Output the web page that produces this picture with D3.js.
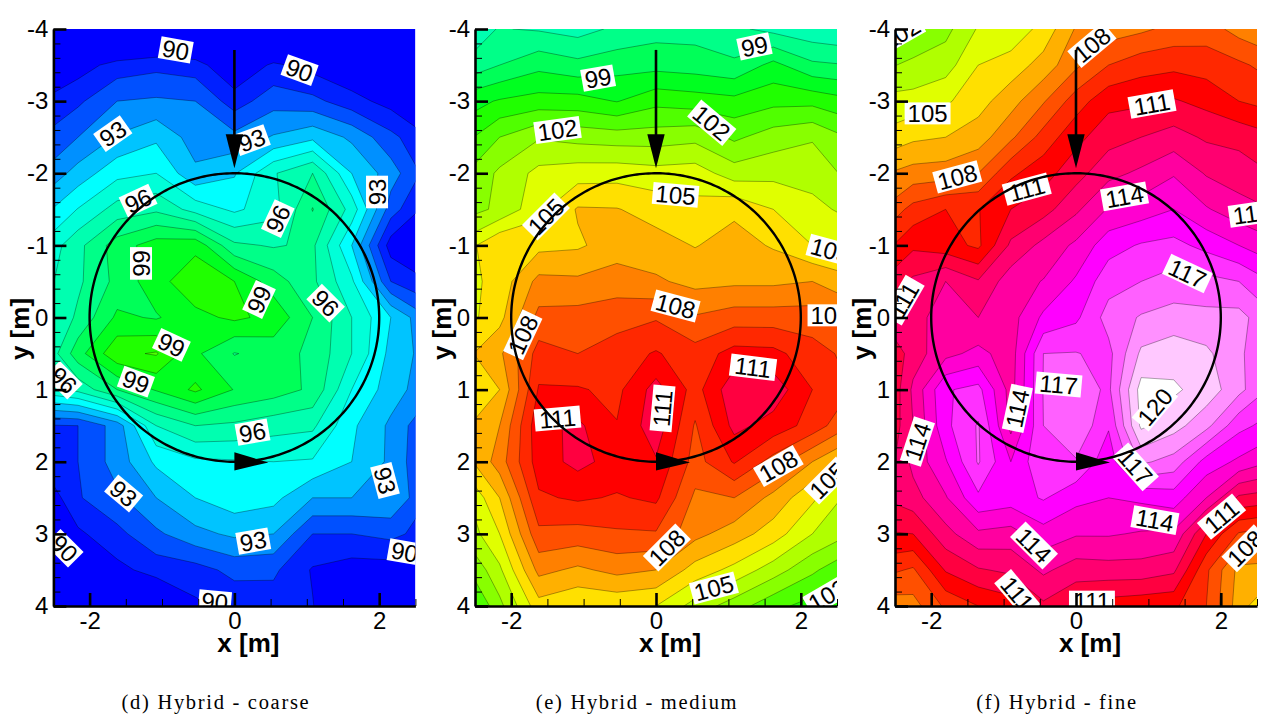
<!DOCTYPE html>
<html>
<head>
<meta charset="utf-8">
<script src="https://cdn.jsdelivr.net/npm/d3@7"></script>
<style>
  body { margin: 0; background: #fff; }
  svg { display: block; }
  text { font-family: "Liberation Sans", sans-serif; }
  .caption { font-family: "Liberation Serif", serif; font-size: 20.5px; letter-spacing: 1.7px; }
  .axisTitle { font-size: 26px; font-weight: bold; }
  .tick text { font-size: 24px; fill: #000; }
</style>
</head>
<body>
<svg id="chart" width="1287" height="719"></svg>
<script>
// measurement rows, y = -4 ... 4 in steps of 0.5
var rowsY = d3.range(-4, 4.01, 0.5);
// the two coarser meshes share 11 columns, the fine one has 13
var colsX11 = [-2.7, -2.16, -1.62, -1.08, -0.54, 0, 0.54, 1.08, 1.62, 2.16, 2.7];
var colsX13 = [-2.7, -2.25, -1.8, -1.35, -0.9, -0.45, 0, 0.45, 0.9, 1.35, 1.8, 2.25, 2.7];

var coarseField = [
  [85,86,87,87.5,87.5,87,87,87,86,85,84],
  [88.5,89.5,90.4,90.7,90.45,89,90.2,89.6,89,88,87],
  [90,90.8,92,92.15,92,90.5,91.6,91.3,90.4,89.6,88.5],
  [91,92,93.1,93.8,92.55,92.3,93.1,93.75,92.8,91.3,90],
  [92,93.4,94.7,95,93.2,93.9,95.9,97,94,92.5,90.5],
  [93.5,95.05,96.4,96.8,95.6,94.8,95.6,98.05,95.6,91.5,89.5],
  [95,96.7,98.5,99.5,99.7,97.2,96.9,97.2,94,89.5,88],
  [95.5,96.8,98.3,99.6,100.74,100,98.5,97.2,95.2,91,90],
  [95.5,97.2,99.2,98.9,99.7,100.2,99.7,98,96,94,92],
  [95.5,98.6,100.75,101.1,99.2,97.95,98.4,97.8,96,93.7,92.5],
  [95.5,96.3,98,99.1,100.2,98.95,98.5,97.8,95,93.5,92.3],
  [90.9,91,92.44,96,97,96.8,96.4,96.2,94.2,92.8,91],
  [90,91,92.44,94.2,94.8,94.9,95,94.9,94,92.8,90.8],
  [88.8,90.9,91.8,93,94,94.6,94.3,93,93,92.9,91],
  [88.5,89.8,90.7,91.8,92.7,93.2,93,91,91,91.3,90.5],
  [87,89.2,89.7,90.4,90.6,91.3,91.2,89.9,89.5,89.5,89.5],
  [86,87,88,88.5,89.8,90.3,90.5,90.05,88.5,88,88]
];

var mediumField = [
  [96.5,97.05,96.9,96.6,97.2,97.6,97.6,97.2,96.7,96.3,96],
  [97,98,98.7,98.3,98.6,98.65,98.5,98.2,99.3,98.2,98],
  [99.5,100.1,100.4,100.4,99.95,100.7,100.5,100.3,100.7,100.7,100.2],
  [100.5,102,102.9,102.65,102.5,102.5,102.7,101.8,102.5,102.9,101.9],
  [101.8,103.2,104.3,104.55,104.6,104.4,104.5,103.5,103.7,103.6,102.7],
  [102.5,103.2,104.7,106.1,106.05,105.6,105.3,105.8,105,104.3,103.7],
  [104.3,106,105.7,105.85,106.5,106.4,105.95,106.4,105.9,105,104.7],
  [104.5,105.4,107.3,107.2,107.5,107.15,106.7,106.8,106.8,107,106.3],
  [104.4,105.7,108.3,108.4,108.6,108.9,108.1,108.5,108.5,108.5,107.7],
  [105.6,106.8,109.4,109,109.5,110.1,109.4,110.4,110.3,109.4,108.7],
  [105,106,110.1,110.1,109.75,111.4,109.6,111.7,111.6,110,109],
  [105.7,107,110.7,111.2,110.05,111.6,108.9,111.3,110.6,109.6,108],
  [105.3,107.5,110.5,111.3,110.6,110.9,108.6,110.1,108.6,107,105.6],
  [103.5,106,109.85,110.15,109.9,110.2,107.8,108,106.7,105.2,103.6],
  [103,105,108.75,108.6,108.85,108.9,107.3,106.5,105.5,104,103],
  [101.5,103.8,107.3,106.8,107.3,107,105.6,104.7,103.5,102.2,101],
  [100,102.7,105.6,105.1,105.2,105,103.6,102.5,101.3,100.6,100]
];

var fineField = [
  [101.8,102.2,102.7,104.1,104.3,105.35,107.1,107.5,107.8,108.3,108.5,107.6,107],
  [102.8,103.2,103.55,105,105.45,106.4,107.8,109,109.6,109.75,109.55,109.2,108.6],
  [104.3,104.4,104.85,105.6,106.6,107.9,109.5,110.7,110.8,111.1,110.7,110,109.6],
  [105.2,105.8,106,106.5,107.8,109.4,110.7,111.6,112,112.4,111.85,111.7,111.2],
  [106.9,107.4,107.5,108,109.8,110.6,111.6,112.7,113.2,113.9,112.9,112.5,112],
  [108,109.35,110,109.95,111,111.6,112.8,114.1,114.5,115,114.1,113.4,113],
  [109.5,110.8,110.4,109.8,112.2,113.3,114.2,115.6,116.1,116.3,115.7,115,114.3],
  [111,112.2,113,112.1,113.55,114.05,115.15,116.6,117,117.4,117.3,117,116],
  [112,112.7,113.4,113,113.6,115.2,115.8,117.4,118.1,118.4,118.3,118.35,117.2],
  [110.6,112.5,113.7,114.3,113.5,117,117.05,116.7,119.2,119.6,119.2,118.2,117],
  [110.2,113.2,115.9,116.3,113.6,117.05,117.6,116.8,120.4,120.15,119.6,118.3,116.8],
  [110.5,113,115.76,117.1,113.7,117,117.9,116.1,120.2,119.4,118.3,116.3,115.6],
  [111,113.3,114.9,117.1,115,116.9,116.9,115.4,118.2,117.6,115.6,114.8,114],
  [112,112.6,113.9,115.8,115.5,116.1,115.3,115,115.2,115.5,114,111.8,111.5],
  [110.9,111,112.65,113.8,113.6,114.6,114.1,114.1,113.9,113.8,111,108.9,108.5],
  [109.4,108.85,111.1,111.9,112.2,113.2,112.5,112.6,112.6,112.2,109.2,106.7,106.6],
  [107.4,107.6,109.2,110,110.5,111.8,111,110.5,110.3,110.2,109,106.5,104.8]
];

// contour levels and the colour of the band that starts at each of them
var levels = d3.range(90, 121);
var bandColors = ["#0020ff","#0050ff","#0090ff","#00c4ff","#00ffff","#00ffd8","#00ffb0","#00ff88","#00ff58","#00ff20",
  "#20ff00","#50ff00","#88ff00","#b0ff00","#e0ff00","#ffe000","#ffb000","#ff8000","#ff5000","#ff2800",
  "#ff0000","#ff0040","#ff0070","#ff00a0","#ff00d0","#ff00ff","#ff30ff","#ff60ff","#ff90ff","#ffc8ff","#ffffff"];
var belowColor = "#0000ff";

// contour labels: [text, x, y, rotation]
var coarseLabels = [
  ["90",-0.81,-3.71,10],["90",0.9,-3.43,20],["93",-1.68,-2.55,-35],["93",0.24,-2.46,-20],["96",-1.33,-1.62,-25],
  ["96",0.6,-1.37,-65],["93",1.97,-1.74,-90],["99",-1.29,-0.75,-90],["99",0.34,-0.25,-65],["96",1.26,-0.2,45],
  ["99",-0.87,0.38,25],["99",-1.36,0.89,20],["96",-2.36,0.87,45],["96",0.25,1.59,-10],["93",-1.53,2.44,40],
  ["93",2.08,2.26,75],["93",0.26,3.1,-10],["90",-2.35,3.2,45],["90",2.35,3.25,10],["90",-0.27,3.94,5]
];
var mediumLabels = [
  ["99",-0.8,-3.32,-10],["99",1.36,-3.76,-12],["102",-1.36,-2.6,-8],["102",0.77,-2.7,40],["105",0.27,-1.7,5],
  ["105",-1.52,-1.4,-45],["105",2.41,-0.93,15],["108",2.41,-0.03,0],["108",0.27,-0.16,15],["108",-1.84,0.24,-65],
  ["111",-1.36,1.4,-5],["111",0.09,1.26,-85],["111",1.34,0.69,7],["108",1.69,2.06,-30],["105",2.37,2.26,-45],
  ["108",0.15,3.19,-45],["105",0.8,3.75,-15],["102",2.37,3.85,-30]
];
var fineLabels = [
  ["102",-2.42,-3.94,-30],["108",0.22,-3.78,-40],["105",-2.05,-2.83,0],["111",1.05,-2.96,-10],["108",-1.64,-1.95,-15],
  ["111",-0.68,-1.78,-15],["114",0.67,-1.68,-10],["114",2.43,-1.44,-8],["117",1.54,-0.61,25],["111",-2.38,-0.24,-60],
  ["114",-2.19,1.72,-72],["114",-0.81,1.26,-78],["117",-0.24,0.93,5],["120",1.09,1.24,-50],["117",0.82,2.07,48],
  ["114",1.09,2.81,10],["114",-0.58,3.16,45],["111",2.01,2.76,-40],["108",2.34,3.2,-45],["111",-0.81,3.83,50],["111",0.22,3.94,0]
];

var captions = ["(d) Hybrid - coarse", "(e) Hybrid - medium", "(f) Hybrid - fine"];
var captionX = [216, 637, 1057];
var panelLeft = [53.4, 475, 895];
var panelWidth = 362;

var svg = d3.select("#chart");

function drawPanel(index, field, cols, labels) {
  var left = panelLeft[index];
  var x = d3.scaleLinear().domain([-2.5, 2.5]).range([left, left + panelWidth]);
  var y = d3.scaleLinear().domain([-4, 4]).range([29, 606]);

  // d3.contours works in grid units where node i sits at i + 0.5
  var gridX = d3.scaleLinear().domain([0.5, cols.length - 0.5]).range([x(cols[0]), x(cols[cols.length - 1])]);
  var gridY = d3.scaleLinear().domain([0.5, rowsY.length - 0.5]).range([y(rowsY[0]), y(rowsY[rowsY.length - 1])]);

  var path = d3.geoPath().projection(d3.geoTransform({
    point: function(px, py) {
      this.stream.point(gridX(px), gridY(py));
    }
  }));

  var contours = d3.contours()
    .size([cols.length, rowsY.length])
    .thresholds(levels)(field.flat());

  var g = svg.append("g");

  g.append("clipPath").attr("id", "plot" + index)
    .append("rect")
    .attr("x", x(-2.5)).attr("y", y(-4))
    .attr("width", panelWidth).attr("height", y(4) - y(-4));

  var plot = g.append("g").attr("clip-path", "url(#plot" + index + ")");

  plot.append("rect")
    .attr("x", x(-2.5)).attr("y", y(-4))
    .attr("width", panelWidth).attr("height", y(4) - y(-4))
    .style("fill", belowColor);

  plot.selectAll(".band")
    .data(contours)
    .enter().append("path")
    .attr("class", "band")
    .attr("d", path)
    .style("fill", function(d, i) { return bandColors[i]; })
    .style("stroke", "#000")
    .style("stroke-opacity", 0.55)
    .style("stroke-width", 0.6);

  // white boxed contour labels
  var label = plot.selectAll(".clabel")
    .data(labels)
    .enter().append("g")
    .attr("class", "clabel")
    .attr("transform", function(d) {
      return "translate(" + x(d[1]) + "," + y(d[2]) + ") rotate(" + d[3] + ")";
    });

  label.append("rect")
    .attr("x", function(d) { return -(d[0].length * 13.3 + 6) / 2; })
    .attr("y", -11)
    .attr("width", function(d) { return d[0].length * 13.3 + 6; })
    .attr("height", 22)
    .style("fill", "#fff");

  label.append("text")
    .attr("text-anchor", "middle")
    .attr("dy", "0.36em")
    .style("font-size", "24px")
    .text(function(d) { return d[0]; });

  // the radius 2 circle
  var circle = d3.line()
    .x(function(a) { return x(2 * Math.cos(a)); })
    .y(function(a) { return y(2 * Math.sin(a)); });

  plot.append("path")
    .attr("d", circle(d3.range(0, 2 * Math.PI + 0.02, 0.02)))
    .style("fill", "none")
    .style("stroke", "#000")
    .style("stroke-width", 2.4);

  // inflow arrow and direction arrow
  plot.append("line")
    .attr("x1", x(0)).attr("y1", y(-3.71))
    .attr("x2", x(0)).attr("y2", y(-2.5))
    .style("stroke", "#000")
    .style("stroke-width", 2.6);

  plot.append("path")
    .attr("d", d3.line()([[x(-0.12), y(-2.54)], [x(0.12), y(-2.54)], [x(0), y(-2.07)]]) + "Z")
    .style("fill", "#000");

  plot.append("path")
    .attr("d", d3.line()([[x(0), y(1.87)], [x(0.47), y(2.01)], [x(0), y(2.12)]]) + "Z")
    .style("fill", "#000");

  // axes, ticks point into the plot
  var minorY = g.append("g").attr("transform", "translate(" + x(-2.5) + ",0)")
    .call(d3.axisLeft(y).tickValues(d3.range(-4, 4.01, 0.2)).tickSize(-7).tickFormat(""));
  minorY.select(".domain").remove();

  var minorX = g.append("g").attr("transform", "translate(0," + y(4) + ")")
    .call(d3.axisBottom(x).tickValues(d3.range(-2.5, 2.51, 0.5)).tickSize(-7).tickFormat(""));
  minorX.select(".domain").remove();

  var majorY = g.append("g").attr("transform", "translate(" + x(-2.5) + ",0)")
    .call(d3.axisLeft(y).tickValues(d3.range(-4, 5)).tickSize(-13).tickSizeOuter(0).tickPadding(5)
      .tickFormat(function(d) { return String(d); }));

  var majorX = g.append("g").attr("transform", "translate(0," + y(4) + ")")
    .call(d3.axisBottom(x).tickValues([-2, 0, 2]).tickSize(-13).tickSizeOuter(0).tickPadding(6)
      .tickFormat(function(d) { return String(d); }));

  g.selectAll(".domain").style("stroke", "#000").style("stroke-width", 2.6);
  majorY.selectAll(".tick line").style("stroke-width", 2.6);
  majorX.selectAll(".tick line").style("stroke-width", 2.6);

  g.append("text")
    .attr("class", "axisTitle")
    .attr("text-anchor", "middle")
    .attr("x", x(0) + 14).attr("y", 652)
    .text("x [m]");

  g.append("text")
    .attr("class", "axisTitle")
    .attr("text-anchor", "middle")
    .attr("transform", "translate(" + (x(-2.5) - 24) + ",329) rotate(-90)")
    .text("y [m]");

  g.append("text")
    .attr("class", "caption")
    .attr("text-anchor", "middle")
    .attr("x", captionX[index]).attr("y", 709)
    .text(captions[index]);
}

drawPanel(0, coarseField, colsX11, coarseLabels);
drawPanel(1, mediumField, colsX11, mediumLabels);
drawPanel(2, fineField, colsX13, fineLabels);
</script>
</body>
</html>
